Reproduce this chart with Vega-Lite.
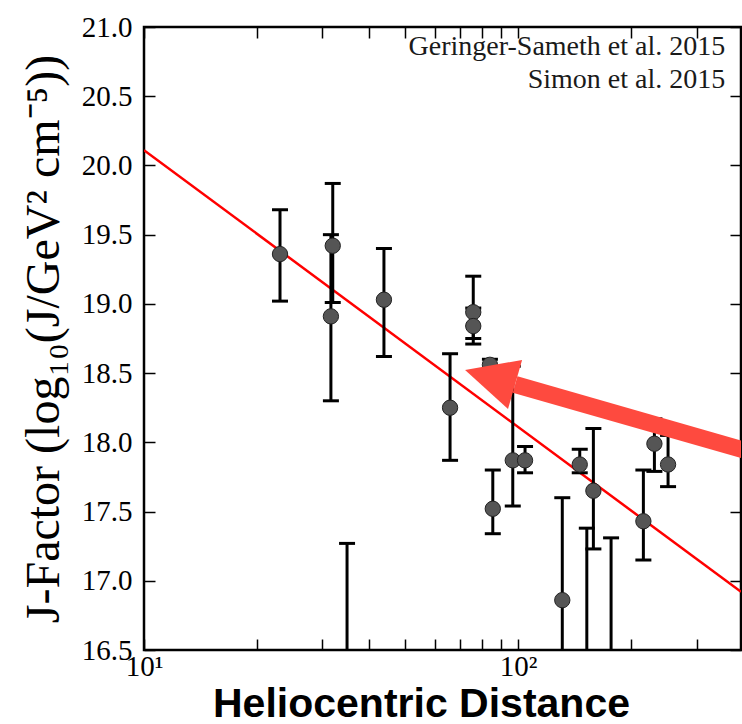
{
  "$schema": "https://vega.github.io/schema/vega-lite/v6.json",
  "autosize": "none",
  "padding": {"left": 144, "top": 27, "right": 1, "bottom": 74},
  "width": 597,
  "height": 623,
  "background": "white",
  "config": {
    "view": {"stroke": "black", "strokeWidth": 2.5},
    "axis": {"grid": false, "domain": false, "tickColor": "black", "tickWidth": 1.5, "labelColor": "black", "titleColor": "black"}
  },
  "datasets": {
    "obs": [
      {"dist": 23.1, "j": 19.36, "lo": 19.02, "hi": 19.68},
      {"dist": 31.96, "j": 19.42, "lo": 19.01, "hi": 19.87},
      {"dist": 31.6, "j": 18.91, "lo": 18.30, "hi": 19.50},
      {"dist": 43.8, "j": 19.03, "lo": 18.62, "hi": 19.40},
      {"dist": 65.8, "j": 18.25, "lo": 17.87, "hi": 18.64},
      {"dist": 75.9, "j": 18.94, "lo": 18.75, "hi": 19.20},
      {"dist": 75.9, "j": 18.84, "lo": 18.71, "hi": 18.97},
      {"dist": 84.1, "j": 18.56, "lo": 18.50, "hi": 18.60},
      {"dist": 85.6, "j": 17.52, "lo": 17.34, "hi": 17.80},
      {"dist": 96.8, "j": 17.87, "lo": 17.54, "hi": 18.55},
      {"dist": 104.4, "j": 17.87, "lo": 17.78, "hi": 17.97},
      {"dist": 131.3, "j": 16.86, "lo": 16.0, "hi": 17.60},
      {"dist": 146.2, "j": 17.84, "lo": 17.78, "hi": 17.95},
      {"dist": 159.0, "j": 17.65, "lo": 17.23, "hi": 18.10},
      {"dist": 216.3, "j": 17.43, "lo": 17.15, "hi": 17.80},
      {"dist": 231.5, "j": 17.99, "lo": 17.79, "hi": 18.17},
      {"dist": 251.8, "j": 17.84, "lo": 17.68, "hi": 18.05},
      {"dist": 34.9, "j": 16.2, "lo": 15.5, "hi": 17.27},
      {"dist": 152.7, "j": 16.2, "lo": 15.5, "hi": 17.38},
      {"dist": 177.3, "j": 16.2, "lo": 15.5, "hi": 17.31},
      {"dist": 415.0, "j": 17.11, "lo": 16.8, "hi": 17.4}
    ],
    "fit": [
      {"dist": 10, "j": 20.11},
      {"dist": 394.5, "j": 16.92}
    ],
    "refs": [
      {"label": "Geringer-Sameth et al. 2015", "dist": 358, "j": 20.798},
      {"label": "Simon et al. 2015", "dist": 358, "j": 20.559}
    ],
    "arrow": [
      {"tipDist": 72.17, "tipJ": 18.522, "baseDist": 98.2, "baseJ": 18.418, "tailDist": 501.8, "tailJ": 17.869}
    ]
  },
  "resolve": {"scale": {"x": "shared", "y": "shared"}, "axis": {"x": "independent", "y": "independent"}},
  "layer": [
    {
      "data": {"name": "fit"},
      "mark": {"type": "line", "color": "#ff0000", "strokeWidth": 2.5, "clip": true},
      "encoding": {
        "x": {"field": "dist", "type": "quantitative",
          "scale": {"type": "log", "domain": [10, 394.5], "nice": false},
          "axis": {"orient": "top", "title": null, "labels": false, "tickSize": -11,
            "encode": {"ticks": {"update": {"y2": {"signal": "(datum.value == 10 || datum.value == 100) ? 11 : 6"}}}}}},
        "y": {"field": "j", "type": "quantitative",
          "scale": {"domain": [16.5, 21.0], "nice": false, "zero": false},
          "axis": {"orient": "right", "title": null, "labels": false, "tickSize": -11,
            "values": [16.5, 17.0, 17.5, 18.0, 18.5, 19.0, 19.5, 20.0, 20.5, 21.0]}}
      }
    },
    {
      "data": {"name": "obs"},
      "mark": {"type": "rule", "color": "black", "strokeWidth": 3, "clip": true},
      "encoding": {
        "x": {"field": "dist", "type": "quantitative", "axis": null},
        "y": {"field": "lo", "type": "quantitative", "axis": null},
        "y2": {"field": "hi"}
      }
    },
    {
      "data": {"name": "obs"},
      "mark": {"type": "tick", "orient": "horizontal", "color": "black", "size": 16, "thickness": 3, "opacity": 1, "clip": true},
      "encoding": {
        "x": {"field": "dist", "type": "quantitative", "axis": null},
        "y": {"field": "hi", "type": "quantitative", "axis": null}
      }
    },
    {
      "data": {"name": "obs"},
      "mark": {"type": "tick", "orient": "horizontal", "color": "black", "size": 16, "thickness": 3, "opacity": 1, "clip": true},
      "encoding": {
        "x": {"field": "dist", "type": "quantitative", "axis": null},
        "y": {"field": "lo", "type": "quantitative", "axis": null}
      }
    },
    {
      "data": {"name": "obs"},
      "mark": {"type": "point", "filled": true, "fill": "#555555", "stroke": "#222222", "strokeWidth": 1, "size": 235, "opacity": 1, "clip": true},
      "encoding": {
        "x": {"field": "dist", "type": "quantitative",
          "axis": {"orient": "bottom", "title": "Heliocentric Distance", "tickSize": -11,
            "labelExpr": "datum.value == 10 ? '10¹' : datum.value == 100 ? '10²' : ''",
            "labelFlush": false, "labelOverlap": false, "labelPadding": 13,
            "labelFont": "Liberation Serif", "labelFontSize": 29,
            "titleFont": "Liberation Sans", "titleFontWeight": "bold", "titleFontSize": 41, "titlePadding": 3,
            "titleX": 277, "titleAlign": "center",
            "encode": {"ticks": {"update": {"y2": {"signal": "(datum.value == 10 || datum.value == 100) ? -11 : -6"}}}}}},
        "y": {"field": "j", "type": "quantitative",
          "axis": {"orient": "left", "title": "J-Factor (log₁₀(J/GeV² cm⁻⁵))", "tickSize": -11,
            "values": [16.5, 17.0, 17.5, 18.0, 18.5, 19.0, 19.5, 20.0, 20.5, 21.0],
            "format": ".1f", "labelPadding": 23,
            "labelFont": "Liberation Serif", "labelFontSize": 29,
            "titleFont": "Liberation Serif", "titleFontWeight": "normal", "titleFontSize": 48, "titlePadding": 13}}
      }
    },
    {
      "data": {"name": "refs"},
      "mark": {"type": "text", "align": "right", "baseline": "alphabetic", "font": "Liberation Serif", "fontSize": 28, "color": "#1a1a1a"},
      "encoding": {
        "x": {"field": "dist", "type": "quantitative", "axis": null},
        "y": {"field": "j", "type": "quantitative", "axis": null},
        "text": {"field": "label"}
      }
    },
    {
      "data": {"name": "arrow"},
      "mark": {"type": "rule", "color": "#fe4a3f", "strokeWidth": 17, "strokeCap": "butt", "clip": true},
      "encoding": {
        "x": {"field": "baseDist", "type": "quantitative", "axis": null},
        "y": {"field": "baseJ", "type": "quantitative", "axis": null},
        "x2": {"field": "tailDist"},
        "y2": {"field": "tailJ"}
      }
    },
    {
      "data": {"name": "arrow"},
      "mark": {"type": "point", "shape": "M0,0L1,-0.49L1,0.49Z", "filled": true, "fill": "#fe4a3f", "strokeWidth": 0, "size": 10816, "angle": 16, "opacity": 1, "clip": true},
      "encoding": {
        "x": {"field": "tipDist", "type": "quantitative", "axis": null},
        "y": {"field": "tipJ", "type": "quantitative", "axis": null}
      }
    }
  ]
}
